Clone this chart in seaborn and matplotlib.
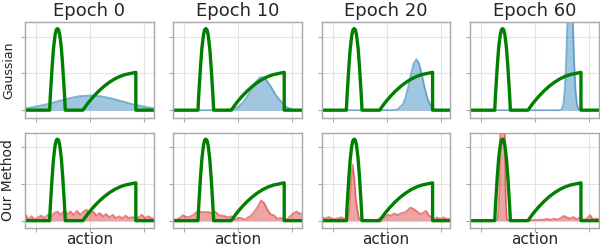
import numpy as np
import seaborn as sns
import matplotlib
matplotlib.use("Agg")
import matplotlib.pyplot as plt

# epochs shown as columns
epochs = ["Epoch 0", "Epoch 10", "Epoch 20", "Epoch 60"]
rows = ["Gaussian", "Our Method"]

# target density (green)
target_x = [-1.2, -0.745, -0.73, -0.70, -0.673, -0.644, -0.622, -0.60, -0.578, -0.556,
            -0.527, -0.50, -0.47, -0.455, -0.13, -0.032, 0.066, 0.164, 0.262, 0.36,
            0.458, 0.556, 0.654, 0.752, 0.85, 0.85, 1.2]
target_y = [0, 0, 0.43, 1.14, 1.68, 2.04, 2.19, 2.22, 2.19, 2.04,
            1.68, 1.14, 0.43, 0, 0, 0.2, 0.37, 0.52, 0.65, 0.76,
            0.85, 0.92, 0.97, 1.0, 1.03, 0, 0]

# Gaussian policy densities (blue)
gauss0_x = [-1.2, -1.1, -1.0, -0.9, -0.8, -0.7, -0.6, -0.5, -0.4, -0.3, -0.2, -0.1, 0.0,
            0.1, 0.2, 0.3, 0.4, 0.5, 0.6, 0.7, 0.8, 0.9, 1.0, 1.1, 1.2]
gauss0_y = [0.05, 0.07, 0.10, 0.13, 0.16, 0.20, 0.24, 0.28, 0.32, 0.35, 0.38, 0.39, 0.40,
            0.39, 0.38, 0.35, 0.32, 0.28, 0.24, 0.20, 0.16, 0.13, 0.10, 0.07, 0.05]
gauss10_x = [-1.2, -0.3, -0.1, 0.0, 0.1, 0.2, 0.3, 0.4, 0.45, 0.5, 0.6, 0.7, 0.8, 0.9, 1.0, 1.1, 1.2]
gauss10_y = [0, 0, 0.03, 0.09, 0.23, 0.46, 0.73, 0.89, 0.9, 0.86, 0.65, 0.40, 0.22, 0.08, 0.02, 0.005, 0]
gauss20_x = [-1.2, 0.1, 0.2, 0.3, 0.35, 0.4, 0.45, 0.5, 0.55, 0.6, 0.65, 0.7, 0.75, 0.8, 0.85, 0.9, 1.0, 1.2]
gauss20_y = [0, 0, 0.02, 0.16, 0.35, 0.64, 0.98, 1.27, 1.39, 1.27, 0.98, 0.64, 0.35, 0.16, 0.06, 0.02, 0, 0]
gauss60_x = [-1.2, 0.45, 0.475, 0.5, 0.525, 0.55, 0.575, 0.6, 0.625, 0.65, 0.675, 0.7, 0.725,
             0.75, 0.775, 0.8, 0.825, 0.85, 1.2]
gauss60_y = [0, 0, 0.01, 0.04, 0.18, 0.54, 1.3, 2.43, 3.53, 4.0, 3.53, 2.43, 1.3,
             0.54, 0.18, 0.04, 0.01, 0, 0]

# our method densities (red)
grid_x = np.round(np.linspace(-1.2, 1.2, 41), 3)
ours0_y = [0.21, 0.03, 0.12, 0.03, 0.09, 0.14, 0.07, 0.16, 0.12, 0.21,
           0.25, 0.16, 0.27, 0.18, 0.25, 0.16, 0.27, 0.16, 0.25, 0.30,
           0.18, 0.25, 0.14, 0.21, 0.12, 0.18, 0.09, 0.16, 0.07, 0.12,
           0.07, 0.14, 0.07, 0.10, 0.07, 0.09, 0.16, 0.07, 0.12, 0.07, 0.05]
ours10_y = [0.03, 0.03, 0.08, 0.15, 0.10, 0.11, 0.15, 0.22, 0.25, 0.23,
            0.24, 0.23, 0.20, 0.24, 0.15, 0.14, 0.12, 0.09, 0.12, 0.04,
            0.08, 0.07, 0.03, 0.09, 0.14, 0.25, 0.38, 0.55, 0.48, 0.30,
            0.17, 0.15, 0.06, 0.07, 0.06, 0.04, 0.12, 0.20, 0.25, 0.19, 0.20]
ours20_x = [-1.2, -1.13, -1.07, -0.98, -0.89, -0.83, -0.77, -0.72, -0.69, -0.66, -0.63,
            -0.60, -0.57, -0.54, -0.51, -0.47, -0.38, -0.28, -0.19, -0.10, -0.04,
            0.02, 0.08, 0.14, 0.20, 0.26, 0.32, 0.38, 0.44, 0.50, 0.56,
            0.62, 0.68, 0.73, 0.78, 0.84, 0.87, 0.93, 0.99, 1.05, 1.11, 1.2]
ours20_y = [0.09, 0.06, 0.10, 0.04, 0.07, 0.09, 0.03, 0.05, 0.35, 1.1, 1.53,
            1.2, 0.6, 0.3, 0.05, 0.02, 0.02, 0.02, 0.01, 0.09, 0.09,
            0.16, 0.14, 0.2, 0.15, 0.2, 0.22, 0.27, 0.36, 0.32, 0.25,
            0.18, 0.22, 0.27, 0.14, 0.09, 0.02, 0.09, 0.05, 0.09, 0.05, 0.04]
ours60_x = [-1.2, -1.0, -0.8, -0.72, -0.69, -0.66, -0.64, -0.61, -0.58, -0.56,
            -0.54, -0.52, -0.45, -0.3, -0.1, 0.05, 0.17, 0.23, 0.29, 0.35,
            0.41, 0.47, 0.53, 0.59, 0.65, 0.71, 0.77, 0.83, 0.89, 0.95,
            1.02, 1.07, 1.13, 1.2]
ours60_y = [0.01, 0.01, 0.01, 0.02, 0.05, 0.8, 2.8, 4.0, 3.5, 2.5,
            0.6, 0.03, 0.01, 0.01, 0.01, 0.02, 0.03, 0.05, 0.02, 0.06,
            0.03, 0.07, 0.13, 0.09, 0.06, 0.10, 0.04, 0.09, 0.02, 0.05,
            0.15, 0.04, 0.06, 0.03]

gauss = [(gauss0_x, gauss0_y), (gauss10_x, gauss10_y), (gauss20_x, gauss20_y), (gauss60_x, gauss60_y)]
ours = [(grid_x, ours0_y), (grid_x, ours10_y), (ours20_x, ours20_y), (ours60_x, ours60_y)]

sns.set_style("whitegrid", {"grid.color": "#e3e3e3", "axes.edgecolor": "#a8a8a8",
                            "xtick.bottom": True, "ytick.left": True})
plt.rcParams['font.family'] = ['DejaVu Sans']

fig, axes = plt.subplots(2, 4, figsize=(6, 2.49), dpi=100, sharex=True, sharey=True)
fig.subplots_adjust(left=25 / 600, right=0.998, top=0.9116, bottom=0.0843,
                    wspace=0.153, hspace=0.157)

styles = [("#1f77b4", gauss), ("#d62728", ours)]
for r, (col, dens) in enumerate(styles):
    for c in range(4):
        ax = axes[r, c]
        dx, dy = dens[c]
        ax.fill_between(dx, 0, dy, color=col, alpha=0.42, linewidth=0)
        sns.lineplot(x=dx, y=dy, ax=ax, color=col, alpha=0.55, lw=1.3,
                     estimator=None, sort=False)
        sns.lineplot(x=target_x, y=target_y, ax=ax, color="green", lw=2.4,
                     estimator=None, sort=False)
        ax.set_xlim(-1.2, 1.18)
        ax.set_ylim(-0.2, 2.4)
        ax.set_xticks([-1, 0, 1])
        ax.set_yticks([0, 1, 2])
        ax.tick_params(length=3, color="#a8a8a8", labelbottom=False, labelleft=False)
        for s in ax.spines.values():
            s.set_linewidth(1.0)
        if r == 0:
            ax.set_title(epochs[c], fontsize=13, pad=4)
        if r == 1:
            ax.set_xlabel("action", fontsize=11, labelpad=0)
    axes[r, 0].set_ylabel(rows[r], fontsize=10 if r else 9, labelpad=4)

plt.savefig("out.png", dpi=100)
